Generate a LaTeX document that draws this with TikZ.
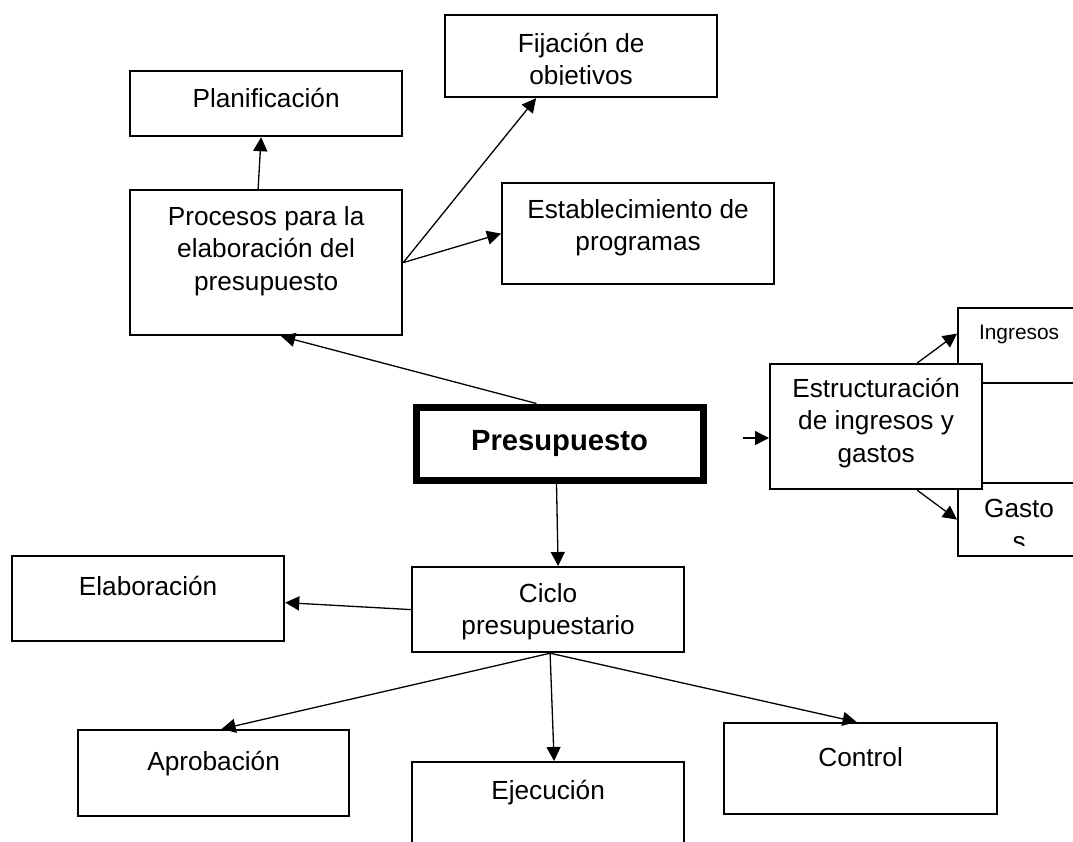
\documentclass[tikz,border=0pt]{standalone}
\usepackage{fontspec}
\setmainfont{Liberation Sans}
\usetikzlibrary{arrows.meta}
\tikzset{
    caja/.style={draw,line width=2.2pt,fill=white,anchor=north west,inner sep=0pt},
    cajagruesa/.style={caja,line width=7pt,font=\fontsize{29.2}{35}\selectfont\bfseries},
    texto/.style={anchor=north,inner sep=0pt,align=center,font=\fontsize{26.2}{32.5}\selectfont},
    textochico/.style={texto,font=\fontsize{20.9}{26}\selectfont},
    flecha/.style={-{Triangle[length=14pt,width=14pt]},line width=1.3pt}
}
\begin{document}
\begin{tikzpicture}[x=1pt,y=-1pt]
\useasboundingbox (0,0) rectangle (1073,841);

% procesos
\node[caja,minimum width=272pt,minimum height=65pt,label={[texto,name=plan-t,yshift=-18pt]north:Planificación}] (plan) at (129,70) {};
\node[caja,minimum width=272pt,minimum height=145pt,label={[texto,name=proc-t,yshift=-17pt]north:Procesos para la\\elaboración del\\presupuesto}] (proc) at (129,189) {};
\node[caja,minimum width=272pt,minimum height=82pt] (fija) at (444,14) {};
\begin{scope}
\clip (444,14) rectangle (716,84.5);
\node[texto,yshift=-19pt] (fija-t) at (fija.north) {Fijación de\\objetivos};
\end{scope}
\node[caja,minimum width=272pt,minimum height=101pt,label={[texto,name=estab-t,yshift=-17pt]north:Establecimiento de\\programas}] (estab) at (501,182) {};

% centro
\node[cajagruesa,minimum width=287pt,minimum height=73pt] (pres) at (412.5,403.5) {Presupuesto};

% ingresos y gastos
\node[caja,minimum width=122pt,minimum height=75pt,label={[textochico,name=ing-t,yshift=-18pt]north:Ingresos}] (ing) at (957,307) {};
\node[caja,minimum width=122pt,minimum height=100pt] (medio) at (957,382) {};
\node[caja,minimum width=122pt,minimum height=73pt] (gas) at (957,482) {};
\begin{scope}
\clip (957,482) rectangle (1079,545);
\node[texto,yshift=-17pt] (gas-t) at (gas.north) {Gasto\\s};
\end{scope}
\node[caja,minimum width=212pt,minimum height=125pt,label={[texto,name=estr-t,yshift=-15pt]north:Estructuración\\de ingresos y\\gastos}] (estr) at (769,363) {};

% ciclo
\node[caja,minimum width=272pt,minimum height=85pt,label={[texto,name=ciclo-t,yshift=-17pt]north:Ciclo\\presupuestario}] (ciclo) at (411,566) {};
\node[caja,minimum width=272pt,minimum height=85pt,label={[texto,name=elab-t,yshift=-21pt]north:Elaboración}] (elab) at (11,555) {};
\node[caja,minimum width=271pt,minimum height=86pt,label={[texto,name=aprob-t,yshift=-22pt]north:Aprobación}] (aprob) at (77,729) {};
\node[caja,minimum width=272pt,minimum height=100pt,label={[texto,name=ejec-t,yshift=-19pt]north:Ejecución}] (ejec) at (411,761) {};
\node[caja,minimum width=273pt,minimum height=91pt,label={[texto,name=control-t,yshift=-25pt]north:Control}] (control) at (723,722) {};

% flechas
\draw[flecha] ([xshift=-8pt]proc.north) -- ([xshift=-5pt]plan.south);
\draw[flecha] (proc.east) -- ([xshift=-45pt]fija.south);
\draw[flecha] (proc.east) -- (estab.west);
\draw[flecha] ([xshift=-23pt]pres.north) -- ([xshift=15pt]proc.south);
\draw[flecha] ([xshift=-3pt]pres.south) -- ([xshift=10pt]ciclo.north);

\coordinate (entrada) at (743,438);
\draw[flecha] (entrada) -- (entrada -| estr.west);
\draw[flecha] ([xshift=-66pt]estr.north east) -- ([yshift=12pt]ing.west);
\draw[flecha] ([xshift=-66pt]estr.south east) -- (gas.west);

\draw[flecha] (ciclo.west) -- ([yshift=-4pt]elab.east);
\draw[flecha] ([xshift=2pt]ciclo.south) -- ([xshift=8pt]aprob.north);
\draw[flecha] ([xshift=2pt]ciclo.south) -- ([xshift=6pt]ejec.north);
\draw[flecha] ([xshift=2pt]ciclo.south) -- ([xshift=-4pt]control.north);

\end{tikzpicture}
\end{document}
